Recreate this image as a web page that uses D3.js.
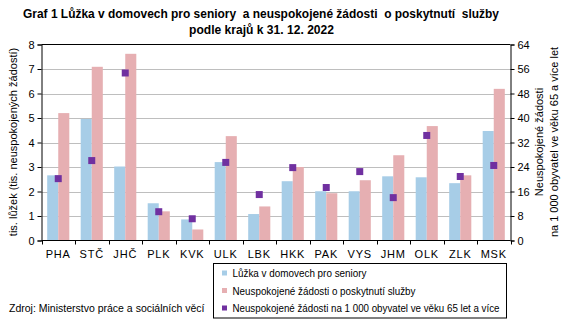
<!DOCTYPE html>
<html><head><meta charset="utf-8">
<script src="https://cdn.jsdelivr.net/npm/d3@7"></script>
<style>body{margin:0;background:#fff}svg text{font-family:"Liberation Sans",Arial,sans-serif;white-space:pre}</style>
</head><body><svg id="c" width="567" height="322"></svg>
<script>
const categories = ["PHA","STČ","JHČ","PLK","KVK","ULK","LBK","HKK","PAK","VYS","JHM","OLK","ZLK","MSK"];
const beds = [2.66,4.96,3.02,1.52,0.86,3.2,1.08,2.42,2.01,2.01,2.62,2.58,2.34,4.47];
const requests = [5.2,7.09,7.62,1.19,0.45,4.26,1.39,3.0,1.93,2.46,3.48,4.67,2.66,6.19];
const perThousand = [20.2,26.1,54.7,9.4,7.1,25.5,15,23.8,17.3,22.5,14,34.3,20.9,24.5];
const leftTicks = [0,1,2,3,4,5,6,7,8];
const rightTicks = [0,8,16,24,32,40,48,56,64];
const seriesNames = ["Lůžka v domovech pro seniory","Neuspokojené žádosti o poskytnutí služby","Neuspokojené žádosti na 1 000 obyvatel ve věku 65 let a více"];
const colors = ["#A7CDE7","#E6AFB2","#7030A0"];

const svg = d3.select("#c");
const L = 41.5, R = 510.5, T = 44.5, B = 240.5;
const x = d3.scaleBand().domain(categories).range([L,R]).paddingInner(0.34).paddingOuter(0.17);
const xg = d3.scaleBand().domain(categories).range([L,R]);
const yL = d3.scaleLinear().domain([0,8]).range([B,T]);
const yR = d3.scaleLinear().domain([0,64]).range([B,T]);

// gridlines
svg.append("g").selectAll("line").data(leftTicks.filter(d=>d>0&&d<8)).join("line")
  .attr("x1",L).attr("x2",R).attr("y1",d=>Math.round(yL(d))+0.5).attr("y2",d=>Math.round(yL(d))+0.5)
  .attr("stroke","#BEBEBE").attr("stroke-width",1);
svg.append("line").attr("x1",L).attr("x2",R).attr("y1",T).attr("y2",T).attr("stroke","#000");

const bw = x.bandwidth()/2;
svg.append("g").selectAll("rect").data(beds).join("rect")
  .attr("x",(d,i)=>x(categories[i])).attr("width",bw)
  .attr("y",d=>yL(d)).attr("height",d=>B-yL(d)).attr("fill",colors[0]);
svg.append("g").selectAll("rect").data(requests).join("rect")
  .attr("x",(d,i)=>x(categories[i])+bw).attr("width",bw)
  .attr("y",d=>yL(d)).attr("height",d=>B-yL(d)).attr("fill",colors[1]);
svg.append("g").selectAll("rect").data(perThousand).join("rect")
  .attr("x",(d,i)=>x(categories[i])+bw-3.5).attr("width",7)
  .attr("y",d=>yR(d)-3.5).attr("height",7).attr("fill",colors[2]);

// axes
const la = svg.append("g").attr("transform",`translate(${L},0)`)
  .call(d3.axisLeft(yL).tickValues(leftTicks).tickSize(4).tickPadding(3).tickFormat(d3.format("d")));
const ra = svg.append("g").attr("transform",`translate(${R},0)`)
  .call(d3.axisRight(yR).tickValues(rightTicks).tickSize(4).tickPadding(3).tickFormat(d3.format("d")));
[la,ra].forEach(g=>{g.select(".domain").attr("stroke","#000");g.selectAll("line").attr("stroke","#000");
  g.selectAll("text").attr("font-size",11).attr("fill","#000").attr("font-family","Liberation Sans, Arial, sans-serif");});
// bottom axis
const ba = svg.append("g").attr("transform",`translate(0,${B})`);
ba.append("line").attr("x1",L).attr("x2",R).attr("stroke","#000");
ba.selectAll("line.t").data(d3.range(categories.length+1)).join("line").attr("class","t")
  .attr("x1",i=>Math.round(L+i*xg.step())+0.5).attr("x2",i=>Math.round(L+i*xg.step())+0.5)
  .attr("y1",0).attr("y2",4).attr("stroke","#000");
ba.selectAll("text").data(categories).join("text")
  .attr("x",d=>xg(d)+xg.bandwidth()/2).attr("y",17).attr("text-anchor","middle")
  .attr("font-size",11).attr("letter-spacing",0.8).text(d=>d);

// axis titles
svg.append("text").attr("transform","translate(17,142) rotate(-90)").attr("text-anchor","middle")
  .attr("font-size",11).text("tis. lůžek (tis. neuspokojených žádostí)");
svg.append("text").attr("transform","translate(543,142) rotate(-90)").attr("text-anchor","middle")
  .attr("font-size",11).text("Neuspokojené žádosti");
svg.append("text").attr("transform","translate(558,142) rotate(-90)").attr("text-anchor","middle")
  .attr("font-size",11).text("na 1 000 obyvatel ve věku 65 a více let");

// title
svg.append("text").attr("x",261).attr("y",18).attr("text-anchor","middle").attr("font-size",12).attr("font-weight","bold")
  .attr("textLength",476).attr("lengthAdjust","spacingAndGlyphs")
  .text("Graf 1 Lůžka v domovech pro seniory  a neuspokojené žádosti  o poskytnutí  služby");
svg.append("text").attr("x",261.5).attr("y",34).attr("text-anchor","middle").attr("font-size",12).attr("font-weight","bold")
  .attr("textLength",145).attr("lengthAdjust","spacingAndGlyphs")
  .text("podle krajů k 31. 12. 2022");

// legend
const lg = svg.append("g");
lg.append("rect").attr("x",213.5).attr("y",263.5).attr("width",293).attr("height",54.5).attr("fill","none").attr("stroke","#000");
seriesNames.forEach((n,i)=>{
  const yy = 273+i*17.5;
  lg.append("rect").attr("x",222).attr("y",yy-2.5).attr("width",5).attr("height",5).attr("fill",colors[i]);
  lg.append("text").attr("x",232.5).attr("y",yy+4).attr("font-size",10.2)
    .attr("textLength",[134,183,267][i]).attr("lengthAdjust","spacingAndGlyphs").text(n);
});
svg.append("text").attr("x",9).attr("y",312).attr("font-size",10.5).text("Zdroj: Ministerstvo práce a sociálních věcí");
</script></body></html>
